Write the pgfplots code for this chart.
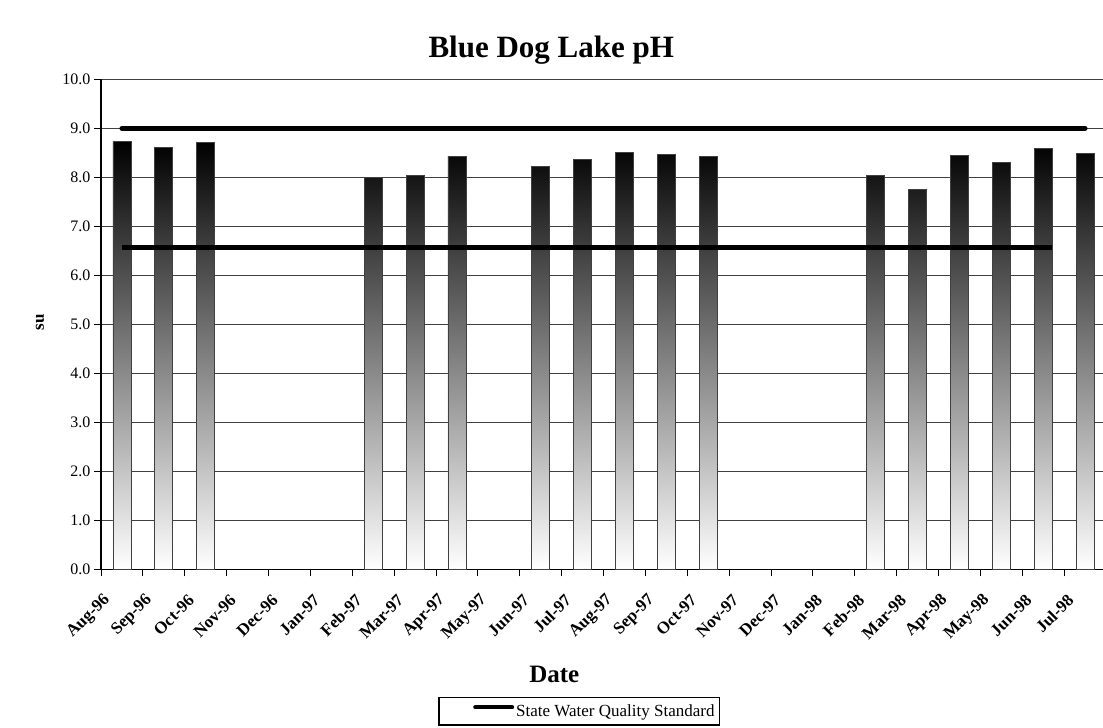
\documentclass[border=0pt]{standalone}
\usepackage{fontspec}
\setmainfont{Liberation Serif}
\usepackage{pgfplots}
\pgfplotsset{compat=1.18}

\begin{document}
\begin{tikzpicture}
\useasboundingbox (0,0) rectangle (1103pt,728pt);
\begin{axis}[
  at={(101pt,158.7pt)}, anchor=south west,
  scale only axis, width=1005pt, height=490pt,
  xmin=-0.5, xmax=23.5, ymin=0, ymax=10,
  axis lines=left,
  axis line style={-, black, line width=1.2pt},
  tick align=outside, major tick length=7pt,
  tick style={black, line width=1pt},
  xtick={-0.5,0.5,...,23.5},
  x tick label as interval,
  xticklabels={Aug-96,Sep-96,Oct-96,Nov-96,Dec-96,Jan-97,Feb-97,Mar-97,Apr-97,May-97,Jun-97,Jul-97,Aug-97,Sep-97,Oct-97,Nov-97,Dec-97,Jan-98,Feb-98,Mar-98,Apr-98,May-98,Jun-98,Jul-98},
  xticklabel style={xshift=-12pt, yshift=-19pt, rotate=45, anchor=east,
    font=\bfseries\fontsize{17}{20}\selectfont},
  ytick={0,1,...,10},
  yticklabel style={font=\fontsize{16}{19}\selectfont},
  /pgf/number format/fixed,
  /pgf/number format/fixed zerofill,
  /pgf/number format/precision=1,
  /pgf/number format/assume math mode=true,
  ymajorgrids, grid style={black!75, line width=0.8pt},
  title={Blue Dog Lake pH},
  title style={at={(axis description cs:0.448,1.0476)}, anchor=center, font=\bfseries\fontsize{31}{36}\selectfont},
  xlabel={Date},
  xlabel style={at={(axis description cs:0.451,-0.2137)}, anchor=center, font=\bfseries\fontsize{25}{29}\selectfont},
  ylabel={su},
  ylabel style={at={(axis description cs:-0.0607,0.5047)}, anchor=center, font=\bfseries\fontsize{17}{20}\selectfont},
  legend style={at={(0.476,-0.2606)}, anchor=north, draw=black, line width=1.5pt,
    font=\fontsize{17}{20}\selectfont, inner xsep=3pt, inner ysep=5pt},
  legend cell align=left,
  legend image code/.code={\path[draw=none] (-33pt,0pt) -- (0pt,0pt);
    \draw[black, line width=4pt, line cap=round] (0pt,4pt) -- (37pt,4pt);},
]
% pH readings
\addplot[ybar, bar width=18pt, draw=black!75, line width=0.8pt,
  top color=black, middle color=black!40, bottom color=white, forget plot]
  coordinates {
    (0,8.73) (1,8.60) (2,8.71) (6,7.99) (7,8.03) (8,8.43)
    (10,8.22) (11,8.37) (12,8.51) (13,8.47) (14,8.43)
    (18,8.03) (19,7.76) (20,8.45) (21,8.31) (22,8.58) (23,8.48)
  };
% standard limits
\addplot[black, line width=5pt, forget plot] coordinates {(0,6.57) (22.2,6.57)};
\addplot[black, line width=5pt, line cap=round] coordinates {(0,9) (23,9)};
\addlegendentry{State Water Quality Standard}
\end{axis}
\end{tikzpicture}
\end{document}
